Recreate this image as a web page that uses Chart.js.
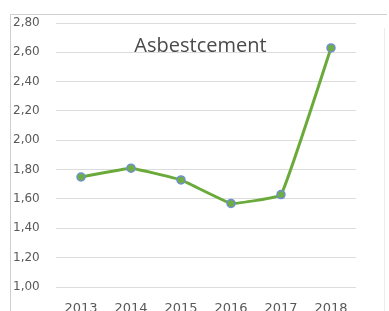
<!DOCTYPE html>
<html>
<head>
<meta charset="utf-8">
<script src="https://cdn.jsdelivr.net/npm/chart.js@4/dist/chart.umd.min.js"></script>
<style>
  html, body { margin: 0; padding: 0; background: #fff; overflow: hidden; }
  #wrap { position: relative; width: 389px; height: 322px; }
</style>
</head>
<body>
<div id="wrap"><canvas id="chart-canvas"></canvas></div>
<script>
  // data
  var years = ["2013", "2014", "2015", "2016", "2017", "2018"];
  var values = [1.75, 1.81, 1.73, 1.57, 1.63, 2.63];
  var yRange = [1.0, 2.8];
  var yStep = 0.2;
  var title = "Asbestcement";

  var INK = "#595959";
  var GREEN = "#6aaa3a";
  var GRID = "#dcdcdc";

  // frame of the chart object plus the title that sits inside the plot
  var excelBits = {
    id: "excelBits",
    beforeDraw: function (chart) {
      var c = chart.ctx;
      c.save();
      c.strokeStyle = "#cfcfcf";
      c.lineWidth = 1;
      c.beginPath();
      c.moveTo(10.5, 330); c.lineTo(10.5, 14.5); c.lineTo(387, 14.5);
      c.stroke();
      c.strokeStyle = "#ececec";
      c.beginPath();
      c.moveTo(384.5, 28); c.lineTo(384.5, 330);
      c.stroke();
      c.restore();
    },
    afterDraw: function (chart) {
      var c = chart.ctx;
      c.save();
      c.font = '20px "Open Sans"';
      c.fillStyle = "#4a4a4a";
      c.textAlign = "center";
      c.textBaseline = "alphabetic";
      c.fillText(title, 200.5, 52);
      c.restore();
    }
  };

  new Chart(document.getElementById("chart-canvas").getContext("2d"), {
    type: "line",
    data: {
      labels: years,
      datasets: [{
        data: values,
        borderColor: GREEN,
        borderWidth: 3,
        tension: 0.08,
        pointRadius: 4,
        pointBackgroundColor: "#70ad47",
        pointBorderColor: "#6f8fd0",
        pointBorderWidth: 1.5
      }]
    },
    options: {
      responsive: true,
      maintainAspectRatio: false,
      animation: false,
      layout: { padding: { top: 23, left: 13, right: 33, bottom: 0 } },
      plugins: { legend: { display: false }, tooltip: { enabled: false }, title: { display: false } },
      scales: {
        x: {
          offset: true,
          grid: { display: false },
          border: { display: false },
          ticks: { color: INK, font: { family: "DejaVu Sans", size: 13 }, padding: 6, maxRotation: 0 },
          afterFit: function (s) { s.height = 35; }
        },
        y: {
          min: yRange[0],
          max: yRange[1],
          grid: { color: GRID, lineWidth: 1, drawTicks: false },
          border: { display: false },
          ticks: {
            stepSize: yStep,
            color: INK,
            crossAlign: "far",
            font: { family: "DejaVu Sans", size: 12 },
            callback: function (v) { return v.toFixed(2).replace(".", ","); }
          },
          afterFit: function (s) { s.width = 43; }
        }
      }
    },
    plugins: [excelBits]
  });
</script>
</body>
</html>
